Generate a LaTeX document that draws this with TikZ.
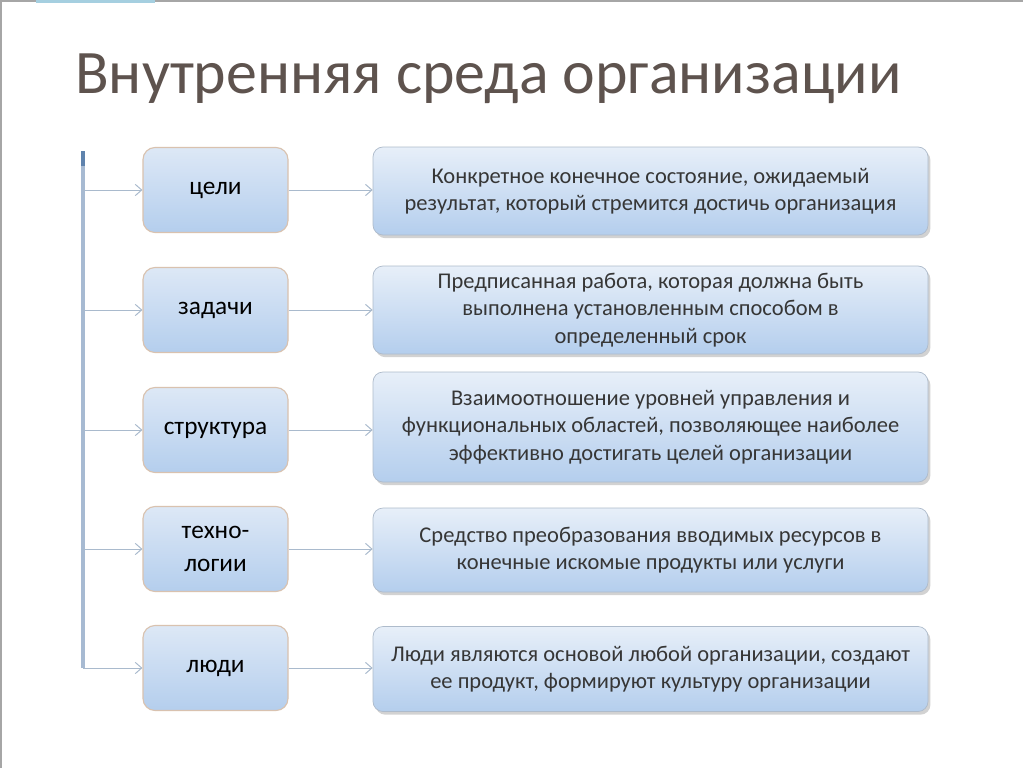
\documentclass[tikz,border=0pt]{standalone}
\usepackage{fontspec}
\setmainfont{Carlito}
\usetikzlibrary{arrows.meta,shadows}
\definecolor{titlegray}{HTML}{5E534E}
\definecolor{boxtop}{HTML}{DDE8F6}
\definecolor{boxbot}{HTML}{B4CEED}
\definecolor{boxrim}{HTML}{D9C2AF}
\definecolor{descrim}{HTML}{AEBBCB}
\definecolor{desctext}{HTML}{363636}
\definecolor{linkgray}{HTML}{A9BACD}
\definecolor{spinecol}{HTML}{A7BAD2}
\definecolor{spinetip}{HTML}{5F83AD}
\tikzset{
  leftbox/.style={rounded corners=3mm, draw=boxrim, line width=0.8pt,
    top color=boxtop, bottom color=boxbot, minimum width=36.25mm,
    minimum height=21.25mm, align=center, inner sep=0pt,
    font=\fontsize{18}{24}\selectfont},
  descbox/.style={rounded corners=2.5mm, draw=descrim, line width=0.5pt,
    top color=boxtop!70!white, bottom color=boxbot, text=desctext,
    drop shadow={shadow xshift=0.6mm, shadow yshift=-0.8mm, opacity=0.35},
    minimum width=138.75mm, align=center, inner sep=0pt,
    font=\fontsize{16}{19.4}\selectfont},
  link/.style={draw=linkgray, line width=0.7pt,
    -{Straight Barb[length=1.6mm,width=2.8mm]}}
}
\begin{document}
\begin{tikzpicture}[x=0.25mm,y=-0.25mm]
\useasboundingbox (0,0) rectangle (1024,768);
\fill[white] (0,0) rectangle (1024,768);
\draw[gray!70, line width=1pt] (1,768) -- (1,1) -- (1023,1);
\fill[cyan!40!teal!40] (36,0) rectangle (155,3);
\node[anchor=base west, text=titlegray, font=\fontsize{44}{50}\selectfont, inner sep=0pt] (title) at (75,93) {Внутренняя среда организации};

\coordinate (spinetop) at (83,151);
\coordinate (spinebot) at (83,668);
\draw[spinecol, line width=1.1mm] (spinetop) -- (spinebot);
\draw[spinetip, line width=1.1mm] (spinetop) -- (83,166);

\node[leftbox] (goals) at (215.5,190) {цели};
\node[leftbox] (tasks) at (215.5,310) {задачи};
\node[leftbox] (struct) at (215.5,430) {структура};
\node[leftbox] (tech) at (215.5,549) {техно-\\логии};
\node[leftbox] (people) at (215.5,668) {люди};

\node[descbox, minimum height=22mm] (goalsdesc) at (650.5,191) {Конкретное конечное состояние, ожидаемый\\результат, который стремится достичь организация};
\node[descbox, minimum height=22mm] (tasksdesc) at (650.5,310) {Предписанная работа, которая должна быть\\выполнена установленным способом в\\определенный срок};
\node[descbox, minimum height=27.5mm] (structdesc) at (650.5,427) {Взаимоотношение уровней управления и\\функциональных областей, позволяющее наиболее\\эффективно достигать целей организации};
\node[descbox, minimum height=21mm] (techdesc) at (650.5,550) {Средство преобразования вводимых ресурсов в\\конечные искомые продукты или услуги};
\node[descbox, minimum height=21.25mm] (peopledesc) at (650.5,669) {Люди являются основой любой организации, создают\\ее продукт, формируют культуру организации};

\draw[link] (spinetop |- goals.west) -- (goals.west);
\draw[link] (spinetop |- tasks.west) -- (tasks.west);
\draw[link] (spinetop |- struct.west) -- (struct.west);
\draw[link] (spinetop |- tech.west) -- (tech.west);
\draw[link] (spinetop |- people.west) -- (people.west);

\draw[link] (goals.east) -- (goals.east -| goalsdesc.west);
\draw[link] (tasks.east) -- (tasks.east -| tasksdesc.west);
\draw[link] (struct.east) -- (struct.east -| structdesc.west);
\draw[link] (tech.east) -- (tech.east -| techdesc.west);
\draw[link] (people.east) -- (people.east -| peopledesc.west);
\end{tikzpicture}
\end{document}
